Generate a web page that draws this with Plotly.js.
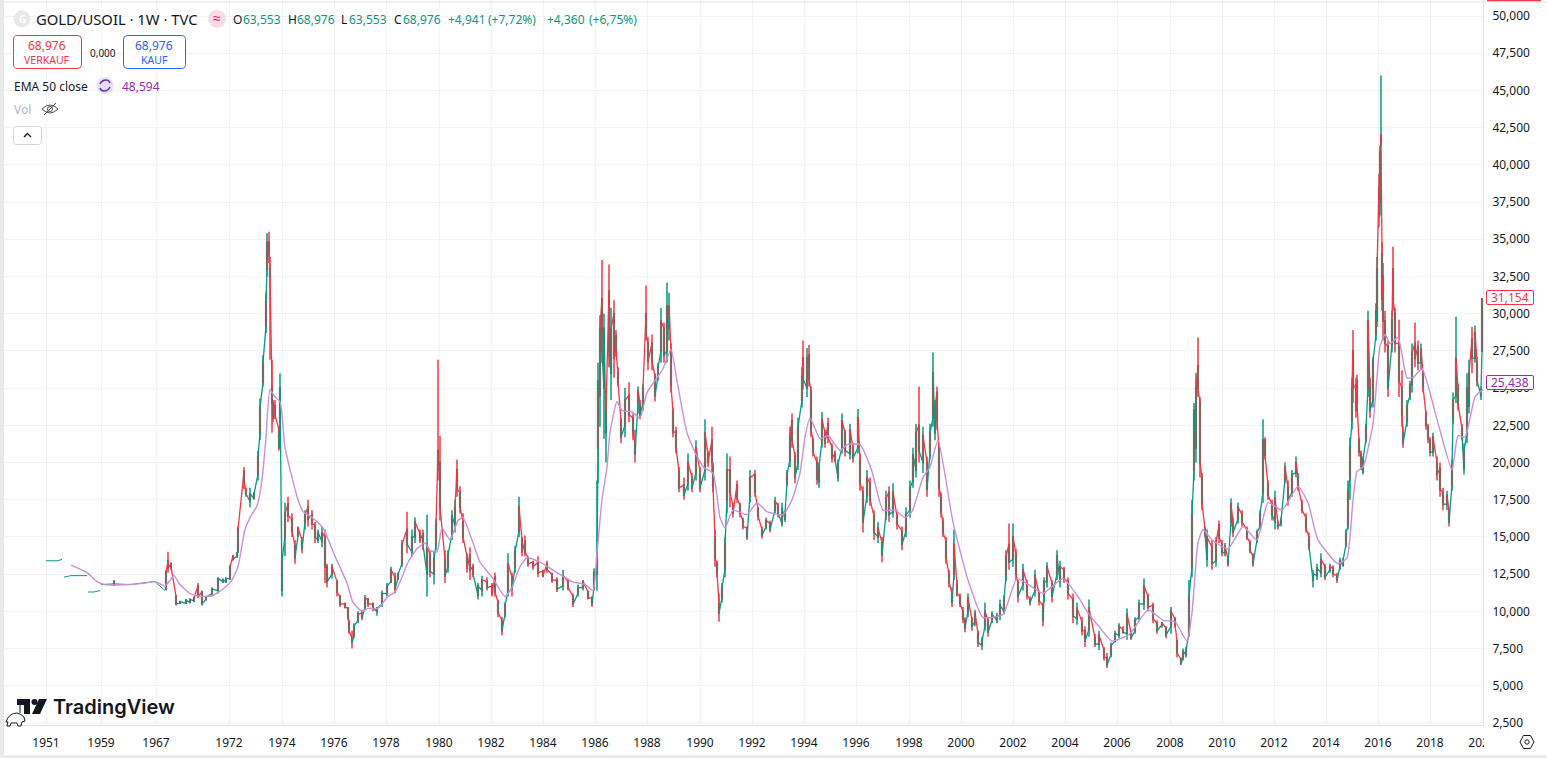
<!DOCTYPE html>
<html><head><meta charset="utf-8">
<script src="https://cdn.plot.ly/plotly-3.0.1.min.js"></script>
<style>html,body{margin:0;padding:0;background:#fff;overflow:hidden}#chart{width:1547px;height:758px}</style>
</head><body><div id="chart"></div>
<script>
// Weekly-bar index along the time axis (1951 = 0)
const tickBars=[0,110,220,366,472,576,680,786,890,994,1098,1202,1308,1412,1516,1620,1726,1830,1934,2038,2142,2248,2352,2456,2560,2664,2768,2872];
const tickYears=['1951','1959','1967','1972','1974','1976','1978','1980','1982','1984','1986','1988','1990','1992','1994','1996','1998','2000','2002','2004','2006','2008','2010','2012','2014','2016','2018','2020'];
const priceTicks=[50,47.5,45,42.5,40,37.5,35,32.5,30,27.5,25,22.5,20,17.5,15,12.5,10,7.5,5,2.5];

// Thin early history (1951-1967), shown as flat runs
const earlyBars=[0,12,24,32,33,36,50,64,82,83,84,96,108,109,110,136,168,198,218,228,238];
const earlyClose=[13.4,13.4,13.4,13.5,null,12.3,12.4,12.4,12.4,null,11.3,11.3,11.4,null,11.8,11.85,11.8,11.95,12.0,11.7,11.4];

const candleBars=[136,
240,244,250,260,268,280,288,296,304,312,
320,332,344,354,360,368,374,382,384,396,
400,408,416,424,428,434,440,442,446,448,
452,454,458,466,468,472,478,484,492,498,
504,512,518,524,532,538,544,552,558,562,
572,582,588,598,604,606,612,616,624,632,
638,644,654,662,672,682,690,698,704,712,
722,732,738,748,754,762,768,776,780,784,
788,798,804,812,818,822,828,834,842,848,
854,864,872,882,892,898,904,912,918,924,
932,938,946,952,958,964,974,984,994,1002,
1012,1022,1034,1044,1054,1064,1074,1084,1092,1096,
1102,1104,1108,1112,1116,1120,1126,1130,1136,1140,
1144,1150,1158,1166,1174,1178,1184,1188,1194,1200,
1204,1212,1218,1224,1230,1236,1242,1246,1250,1254,
1260,1266,1276,1284,1292,1300,1308,1318,1324,1332,
1334,1338,1342,1346,1352,1358,1362,1368,1374,1382,
1388,1394,1402,1408,1418,1424,1432,1440,1448,1458,
1464,1472,1478,1482,1488,1492,1498,1504,1512,1514,
1522,1526,1530,1534,1542,1546,1552,1558,1564,1572,
1578,1584,1592,1598,1608,1614,1624,1628,1634,1642,
1648,1656,1664,1672,1680,1686,1694,1702,1712,1720,
1728,1734,1740,1746,1754,1762,1768,1774,1778,1782,
1786,1790,1794,1800,1806,1812,1816,1822,1828,1834,
1838,1844,1852,1858,1864,1872,1878,1884,1892,1902,
1908,1916,1920,1926,1934,1940,1944,1954,1962,1968,
1978,1986,1994,1996,2002,2012,2022,2028,2036,2044,
2054,2062,2072,2078,2086,2098,2106,2116,2122,2130,
2138,2146,2154,2162,2170,2178,2186,2196,2204,2214,
2222,2232,2240,2250,2258,2262,2270,2274,2280,2286,
2292,2296,2300,2304,2308,2312,2318,2322,2332,2340,
2346,2352,2358,2364,2370,2374,2384,2392,2402,2408,
2414,2422,2428,2434,2438,2444,2452,2458,2464,2470,
2478,2484,2492,2500,2504,2512,2520,2526,2534,2542,
2550,2558,2568,2574,2582,2588,2594,2600,2604,2608,
2612,2614,2620,2622,2626,2630,2634,2640,2644,2648,
2654,2660,2662,2666,2668,2670,2672,2674,2678,2684,
2692,2694,2698,2706,2712,2714,2722,2728,2732,2738,
2744,2750,2754,2760,2764,2768,2774,2782,2788,2794,
2802,2806,2812,2814,2820,2824,2832,2836,2842,2846,
2852,2858,2862,2870,2872];

const opens=[12.0,
11.5,13.4,13.2,11.0,10.55,10.55,10.6,10.7,11.7,11.3,
10.8,11.2,11.4,12.0,12.0,12.2,13.7,13.7,14.1,19.4,
18.1,17.4,17.6,19.2,22.0,25.4,29.2,33.0,34.8,33.0,
25.0,24.0,23.8,22.2,23.0,11.4,15.0,17.2,16.2,14.4,
15.1,14.8,16.0,17.0,16.5,15.8,14.8,14.7,15.0,13.0,
12.5,12.0,11.0,10.5,10.2,9.3,8.2,8.4,9.4,9.9,
10.3,10.8,10.5,10.0,10.5,11.2,12.0,12.3,12.2,13.2,
15.5,14.0,15.0,15.2,15.2,12.5,13.8,12.5,14.5,20.8,
20.0,13.5,13.0,15.2,15.8,19.5,18.0,16.0,13.7,13.8,
13.0,11.1,11.4,12.0,11.7,12.3,10.6,9.4,9.8,11.4,
12.3,13.0,15.4,14.8,14.7,13.6,13.3,13.3,12.7,13.2,
12.5,12.1,11.7,12.0,11.0,11.2,11.6,11.3,10.9,11.6,
12.5,21.0,24.5,31.0,25.0,22.0,31.5,26.0,30.0,28.5,
26.0,22.8,22.5,24.5,23.0,21.5,24.0,24.0,24.0,30.0,
28.0,28.0,25.8,25.8,27.5,29.0,27.5,29.0,27.5,23.4,
22.1,19.4,18.5,18.6,19.0,19.3,19.4,19.5,20.5,21.5,
19.7,15.0,13.2,10.5,10.9,12.8,17.5,19.5,17.1,18.5,
17.1,16.1,15.6,17.8,19.2,16.9,15.5,15.7,15.9,16.8,
17.1,15.9,16.2,18.6,20.2,22.8,20.4,20.0,24.2,27.0,
25.0,27.2,24.8,21.5,20.0,18.7,21.5,22.0,22.6,21.0,
20.6,19.0,21.0,22.0,20.6,21.0,21.0,20.2,18.0,17.8,
18.6,16.4,15.0,14.6,16.6,18.0,16.7,16.4,15.4,15.4,
16.8,18.8,19.5,22.5,20.0,20.0,20.7,23.0,22.0,24.7,
21.0,17.7,16.0,14.7,12.5,11.2,12.5,11.8,11.0,10.0,
9.4,10.0,9.4,9.3,8.5,7.7,9.0,9.4,9.4,9.4,
9.7,10.0,12.4,14.5,13.5,13.8,11.9,11.8,11.9,10.8,
11.4,11.2,10.4,11.0,12.0,11.9,12.5,12.0,12.8,12.0,
10.8,9.5,9.3,8.7,8.8,8.2,7.8,7.4,6.9,7.1,
8.0,8.4,8.8,8.5,8.6,8.7,9.6,10.5,11.0,10.4,
9.2,9.1,8.9,9.0,9.5,8.0,6.8,6.9,7.1,8.5,
13.0,19.5,21.0,26.5,24.0,19.0,15.5,13.5,14.3,13.4,
15.8,14.5,13.9,13.5,16.0,16.0,16.2,16.5,15.5,14.6,
13.7,14.8,15.7,18.0,21.5,18.5,17.2,16.0,15.9,15.9,
18.9,18.3,18.0,19.3,19.0,17.2,16.3,15.0,12.1,12.4,
12.6,13.0,12.8,12.9,12.4,13.0,13.1,14.5,15.8,19.0,
22.8,27.5,25.2,25.5,21.5,20.6,19.4,21.6,25.0,25.0,
24.2,28.6,29.5,38.5,37.5,41.5,34.0,32.5,29.5,27.8,
28.0,33.0,30.0,28.0,25.0,22.0,22.8,24.5,25.2,28.0,
27.8,26.7,26.0,23.2,22.4,21.5,20.7,20.0,19.6,18.0,
17.2,16.8,18.5,23.0,24.5,25.0,22.3,19.6,22.0,23.8,
28.3,27.0,26.8,24.5,27.5];

const highs=[12.1,
12.8,14.0,13.3,11.1,10.7,10.8,10.85,11.0,11.9,11.4,
11.0,11.6,12.3,12.2,12.3,13.1,13.8,14.0,15.7,19.7,
18.3,18.3,18.0,20.8,24.3,27.2,31.4,35.4,35.5,33.8,
26.9,24.2,24.2,22.4,26.0,13.9,17.3,17.7,16.6,14.8,
15.7,15.0,16.8,17.5,16.8,16.0,15.5,15.7,15.5,13.2,
13.2,12.1,11.1,10.6,10.3,9.4,8.7,9.2,10.0,10.1,
11.1,10.9,10.6,10.3,11.4,11.9,13.0,12.6,12.6,14.8,
16.7,15.5,16.3,15.5,15.5,16.5,14.1,14.0,16.2,26.9,
21.8,14.1,14.1,16.8,17.5,20.2,18.4,16.6,13.9,14.3,
13.2,11.9,12.4,12.3,11.9,12.6,10.8,9.6,10.6,13.9,
12.6,14.4,17.7,15.0,15.1,13.7,13.4,13.7,12.8,13.4,
12.6,12.3,12.8,12.2,11.2,11.8,12.1,11.4,11.0,12.9,
18.8,26.7,29.9,33.6,30.0,24.9,33.3,30.4,30.9,28.9,
26.4,23.0,25.0,25.4,23.3,22.2,25.1,24.2,25.3,31.9,
28.4,28.6,26.0,26.7,30.4,29.4,32.1,31.4,28.0,23.7,
22.4,19.7,19.0,20.6,19.3,21.5,19.7,22.9,20.8,22.4,
20.0,15.5,13.4,11.2,11.9,15.0,20.6,20.4,17.3,18.8,
17.3,16.3,15.7,19.5,19.5,17.0,15.7,16.3,16.1,17.7,
17.3,17.3,16.8,19.5,22.4,23.3,20.7,23.0,26.4,28.2,
27.7,27.9,25.1,21.7,20.4,20.0,23.4,22.2,23.0,21.3,
20.8,20.2,23.3,22.2,22.6,21.3,23.6,20.6,18.4,19.5,
19.0,16.8,16.0,15.0,18.1,18.4,18.6,16.8,15.7,17.0,
18.8,21.0,22.6,25.1,22.4,20.4,22.6,27.4,24.2,25.1,
21.3,18.0,16.3,15.0,12.8,11.6,15.5,12.1,11.2,10.3,
9.6,11.2,9.6,10.1,8.7,8.3,10.6,9.6,10.0,9.9,
10.8,11.1,14.1,15.9,15.9,14.2,12.1,13.2,12.1,11.0,
12.8,11.4,10.6,12.3,13.3,12.1,14.1,13.4,13.0,12.3,
11.2,10.6,9.6,9.0,10.8,8.5,8.7,7.6,7.2,7.9,
8.7,9.2,9.0,10.2,8.7,9.6,10.8,12.2,11.2,10.6,
9.4,9.3,9.0,10.3,9.6,8.1,6.9,7.5,7.6,12.1,
17.5,24.0,26.0,28.4,24.4,19.3,15.7,15.5,14.8,15.0,
16.1,14.8,14.6,13.7,17.6,16.3,17.3,16.8,15.7,14.8,
13.9,15.5,16.8,22.9,21.7,18.8,17.5,18.1,16.1,16.3,
20.0,18.8,19.5,20.4,19.3,17.5,16.6,15.3,12.8,13.2,
13.9,13.2,13.2,13.1,12.6,13.6,13.6,15.5,18.8,21.7,
25.7,28.9,25.7,25.9,21.7,20.8,20.4,22.6,30.2,25.7,
27.1,30.7,33.8,39.4,41.3,46.0,34.8,33.4,30.2,28.2,
30.2,34.5,30.4,29.6,26.2,22.4,24.2,25.5,28.0,29.4,
28.2,28.0,26.2,23.5,22.6,21.7,22.0,20.4,20.0,18.3,
18.1,17.0,20.2,24.7,29.8,25.3,22.6,21.3,26.0,26.9,
29.1,29.2,27.1,25.1,31.0];

const lows=[11.7,
11.4,12.6,12.8,10.4,10.5,10.5,10.6,10.7,10.9,10.4,
10.8,11.1,11.2,11.9,11.9,12.1,13.4,13.6,13.9,18.2,
17.7,17.0,17.5,18.8,21.5,25.1,28.7,32.5,33.4,26.9,
22.0,22.7,22.9,20.8,22.4,11.0,13.7,16.0,15.0,13.2,
15.0,13.9,15.5,15.7,15.5,14.6,14.6,14.3,11.9,11.6,
12.2,11.0,10.3,10.2,9.4,8.5,7.5,8.2,9.2,9.4,
10.1,10.3,10.0,9.7,10.3,11.0,11.9,11.2,12.1,13.0,
13.9,13.7,14.6,14.6,14.1,11.0,12.3,11.8,14.1,18.8,
16.1,11.9,12.6,14.8,15.3,17.7,16.6,14.6,12.6,12.1,
12.3,10.8,11.0,11.4,11.0,11.0,9.6,8.4,9.6,11.0,
11.0,12.6,15.0,13.7,13.7,13.0,12.8,12.3,12.3,12.6,
11.9,11.3,11.4,11.4,10.3,11.0,11.4,10.8,10.3,11.4,
11.4,18.6,22.4,26.7,21.6,20.0,26.4,24.2,25.7,27.1,
25.1,21.3,21.7,22.7,21.5,20.0,23.3,22.9,23.5,28.2,
26.2,26.2,24.1,25.5,26.7,26.7,26.7,28.2,24.7,21.7,
20.6,18.0,17.5,18.1,18.0,18.8,18.0,18.8,19.7,19.3,
18.0,13.0,12.3,9.3,10.6,12.3,16.6,17.0,16.3,17.3,
16.3,15.5,14.8,17.3,17.7,16.1,14.9,15.5,15.3,16.6,
16.3,15.7,16.0,18.4,19.7,21.0,18.6,19.5,23.7,24.9,
24.4,25.1,21.7,20.4,18.5,18.3,21.0,21.0,21.3,20.0,
20.0,18.7,20.6,20.4,20.2,20.0,20.6,18.1,15.3,17.3,
17.1,14.8,14.6,13.3,16.1,16.0,16.3,15.5,14.1,15.0,
16.3,18.3,19.0,20.0,19.3,17.7,20.2,22.4,21.5,22.2,
17.7,16.3,15.0,13.2,11.6,10.3,12.1,11.0,10.3,9.2,
8.6,9.6,8.7,9.0,7.6,7.4,8.7,8.3,9.2,9.2,
9.4,9.8,12.0,12.8,13.0,12.1,10.6,11.4,10.8,10.4,
11.0,10.4,9.0,10.6,11.6,10.6,12.1,11.6,11.9,10.8,
9.2,9.1,8.4,7.6,8.3,7.6,7.4,6.7,6.2,6.9,
7.9,8.2,8.5,8.1,8.1,8.5,9.4,10.1,10.0,9.2,
8.5,8.9,8.2,8.5,8.9,6.9,6.4,6.7,6.9,8.3,
12.3,18.8,20.0,24.4,19.0,16.8,15.0,13.0,12.8,13.0,
14.6,13.7,13.7,13.0,15.7,15.0,15.9,15.7,14.8,13.9,
13.0,14.6,15.5,17.3,20.2,17.5,16.1,15.5,15.5,15.7,
18.6,17.1,17.7,19.0,18.1,16.6,15.3,14.1,11.6,12.1,
12.3,12.1,12.6,12.3,11.9,12.8,13.0,14.3,15.5,17.5,
22.2,24.0,23.0,23.5,20.4,19.5,19.2,21.3,24.4,23.0,
23.7,28.2,29.1,35.8,36.6,41.3,30.2,28.2,27.4,24.4,
27.4,30.2,27.4,24.4,22.4,21.0,22.4,24.2,24.7,26.4,
26.2,26.2,24.7,22.2,21.3,20.4,20.4,18.8,17.7,16.8,
16.8,15.7,18.1,22.6,24.0,23.5,21.5,19.2,21.3,23.3,
26.0,26.7,25.1,24.2,27.5];

const closes=[11.8,
12.6,12.9,13.0,10.5,10.65,10.75,10.8,10.9,11.0,10.5,
10.95,11.5,12.2,12.1,12.2,13.0,13.5,13.9,15.5,18.7,
17.9,17.9,17.9,20.4,23.7,26.7,30.8,34.8,34.0,32.5,
24.0,23.0,23.2,21.0,25.0,13.4,16.6,16.4,15.4,13.6,
15.6,14.2,16.5,16.2,15.9,15.0,15.3,15.3,13.0,12.0,
13.0,11.3,10.5,10.3,9.6,8.7,7.9,9.0,9.8,9.6,
10.9,10.5,10.2,10.2,11.2,11.7,12.8,11.5,12.5,14.5,
14.5,15.0,16.0,14.8,14.5,14.5,12.7,13.5,15.8,19.5,
17.0,12.4,13.8,16.4,17.0,18.2,17.0,15.0,12.9,12.8,
12.5,11.7,12.1,11.6,11.2,11.3,9.9,8.7,10.4,13.2,
11.5,14.0,17.0,14.0,14.0,13.2,13.0,12.6,12.4,12.8,
12.1,11.5,12.4,11.6,10.5,11.6,12.0,10.9,10.5,12.6,
13.5,25.5,29.0,27.5,29.0,23.5,27.5,29.0,27.0,27.5,
25.4,21.7,24.2,23.2,21.9,20.6,24.8,23.2,25.0,28.6,
26.8,26.8,24.5,26.4,29.5,27.2,30.5,30.5,25.2,22.0,
21.0,18.3,17.8,20.0,18.3,21.0,18.3,22.0,20.0,20.0,
18.4,13.6,12.6,9.9,11.6,14.5,19.5,18.0,16.6,17.6,
16.6,15.7,15.0,19.0,18.0,16.4,15.1,16.1,15.5,17.4,
16.6,16.9,16.6,19.2,21.8,21.5,19.0,22.4,25.8,25.6,
27.0,25.6,22.2,20.7,18.9,19.7,22.9,21.3,21.7,20.3,
20.2,19.9,22.8,20.8,22.2,20.3,23.0,18.6,16.0,19.0,
17.5,15.3,15.6,13.8,17.6,16.5,18.0,15.9,14.5,16.5,
18.3,20.5,22.0,20.8,21.8,18.2,22.0,26.0,23.7,22.8,
18.3,16.7,15.3,13.6,12.0,10.6,14.5,11.2,10.5,9.5,
8.9,10.9,9.0,9.9,7.9,8.0,10.0,8.6,9.8,9.7,
10.4,10.8,13.7,13.3,15.0,12.5,11.0,12.8,11.1,10.6,
12.4,10.7,9.4,12.0,13.0,11.0,13.7,13.0,12.2,11.2,
9.7,10.2,8.7,8.0,10.2,7.8,8.4,6.9,6.4,7.7,
8.5,9.0,8.6,9.8,8.2,9.4,10.5,11.7,10.3,9.5,
8.7,9.2,8.4,10.0,9.1,7.2,6.5,7.3,7.4,11.0,
16.5,23.5,25.0,25.0,20.0,17.3,15.2,15.0,13.2,14.6,
15.0,14.0,14.4,13.2,17.2,15.3,17.0,16.0,15.0,14.1,
13.2,15.3,16.5,21.5,20.5,17.8,16.5,17.6,15.7,16.1,
19.7,17.5,19.2,20.0,18.4,16.8,15.6,14.4,12.5,12.9,
13.5,12.3,13.0,12.5,12.1,13.4,13.4,15.2,18.0,21.0,
25.0,25.0,23.5,24.0,20.7,19.8,20.2,22.4,29.5,23.5,
26.8,30.2,33.0,36.5,40.8,42.0,31.0,29.5,28.0,25.0,
29.6,31.0,28.0,25.5,23.2,21.3,23.8,25.2,27.4,27.0,
26.7,27.6,25.1,22.5,21.6,20.7,21.7,19.2,18.2,17.2,
17.8,16.0,19.8,24.2,27.0,23.9,21.8,20.8,25.0,26.0,
27.0,28.7,25.5,24.9,31.0];

const emaBars=[50,82,102,118,168,198,218,238,248,256,268,288,308,332,358,372,384,398,408,422,432,440,448,458,468,478,492,504,514,532,554,578,602,614,632,644,664,684,698,712,724,742,758,768,782,792,808,824,834,852,868,892,918,932,948,962,988,1022,1052,1078,1094,1102,1112,1122,1128,1142,1152,1172,1188,1202,1218,1234,1250,1262,1282,1302,1318,1334,1348,1358,1374,1402,1422,1442,1474,1492,1508,1518,1528,1548,1564,1588,1602,1628,1652,1674,1698,1718,1732,1754,1768,1784,1814,1844,1874,1914,1942,1974,1994,2034,2064,2084,2108,2132,2168,2204,2234,2258,2282,2292,2304,2314,2332,2364,2394,2422,2444,2472,2504,2524,2544,2584,2602,2614,2622,2634,2654,2668,2678,2688,2704,2722,2734,2752,2782,2812,2824,2838,2858,2874];
const emaValues=[13.1,12.6,12.0,11.8,11.8,11.9,12.0,11.7,12.1,12.4,11.8,11.2,11.0,11.05,11.6,12.1,13.0,15.5,16.3,17.1,18.8,21.7,24.9,24.4,24.1,21.0,19.0,17.5,16.7,16.3,15.6,13.7,11.9,10.6,10.0,10.2,10.2,11.0,11.3,12.3,13.3,14.2,14.6,14.1,14.0,15.6,14.8,16.1,16.3,14.8,13.3,12.3,11.0,11.6,13.0,13.6,13.3,12.6,12.0,11.8,11.4,13.9,17.5,19.7,22.0,24.1,23.5,23.4,23.0,24.7,25.5,26.3,27.6,25.5,22.0,20.4,19.6,19.3,16.3,15.6,16.8,16.5,17.3,16.7,16.5,17.5,19.3,21.7,23.0,21.6,21.8,20.8,21.2,21.2,19.4,16.8,16.8,16.3,16.7,19.0,19.7,21.5,16.0,12.1,9.6,9.8,12.2,11.6,11.2,12.2,11.0,9.9,8.9,8.0,8.5,10.1,9.4,9.3,8.0,9.9,14.6,15.5,14.8,14.2,15.7,14.8,17.3,16.8,18.4,17.3,14.8,13.2,13.6,17.5,19.4,19.7,22.6,27.8,28.6,28.0,28.4,25.7,25.7,26.3,22.9,19.5,21.8,21.7,24.4,24.9];

const ohlcLegend=[['O',233],['63,553',243],['H',288],['68,976',297],['L',341],['63,553',349],['C',394],['68,976',403],['+4,941',448],['(+7,72%)',488],['+4,360',547],['(+6,75%)',589]];

const GREEN='#089981',RED='#f23645',BROWN='rgba(122,104,96,0.9)',EMA='#c98fd8',PURPLE='#9c27b0',BLUE='#2962ff',INK='#131722',GRID='#f2f3f5';
const FONT='"Noto Sans",sans-serif';

// Overlay helpers: page pixels to paper fractions for the surrounding chart furniture
const PW=1479,PH=725,ML=4;
const fx=x=>(x-ML)/PW, fy=y=>1-y/PH;
const shapes=[],annotations=[];
function mapPath(d){let i=0;return d.replace(/-?\d+(\.\d+)?/g,n=>{const v=(i++%2===0)?fx(+n):fy(+n);return v.toFixed(5)});}
function path(d,line,fill,w){shapes.push({type:'path',xref:'paper',yref:'paper',layer:'above',path:mapPath(d),line:{color:line||'rgba(0,0,0,0)',width:w===undefined?1:w},fillcolor:fill||'rgba(0,0,0,0)'});}
function rect(x0,y0,x1,y1,fill){shapes.push({type:'rect',xref:'paper',yref:'paper',layer:'above',x0:fx(x0),x1:fx(x1),y0:fy(y0),y1:fy(y1),line:{width:0},fillcolor:fill});}
function circle(cx,cy,r,fill,line,w){shapes.push({type:'circle',xref:'paper',yref:'paper',layer:'above',x0:fx(cx-r),x1:fx(cx+r),y0:fy(cy+r),y1:fy(cy-r),line:{color:line||'rgba(0,0,0,0)',width:w===undefined?1:w},fillcolor:fill||'rgba(0,0,0,0)'});}
function rbox(x0,y0,x1,y1,r,line,fill){path(`M ${x0+r} ${y0} L ${x1-r} ${y0} Q ${x1} ${y0} ${x1} ${y0+r} L ${x1} ${y1-r} Q ${x1} ${y1} ${x1-r} ${y1} L ${x0+r} ${y1} Q ${x0} ${y1} ${x0} ${y1-r} L ${x0} ${y0+r} Q ${x0} ${y0} ${x0+r} ${y0} Z`,line,fill);}
function txt(x,y,text,color,size,anchor,extra){annotations.push(Object.assign({xref:'paper',yref:'paper',x:fx(x),y:fy(y),text:text,showarrow:false,xanchor:anchor||'left',yanchor:'middle',borderpad:0,borderwidth:0,font:{family:FONT,size:size||12,color:color||INK}},extra||{}));}

// window edges and axis separators
rect(0,0,4,758,'#e9e9ea');
rect(0,1.5,1547,2.5,'#e6e6e8');
rect(0,755,1547,758,'#ececed');
rect(4,725,1483,726,'#e0e3eb');
rect(1483,0,1484,726,'#e0e3eb');
rect(1484,729,1547,755,'#ffffff');
rect(1487,0,1541,1.2,RED);

// header
circle(22,19,8.5,'#e8e8ea');
txt(22,19,'G','#ffffff',10,'center',{font:{family:FONT,size:10,color:'#ffffff',weight:700}});
txt(36,19,'GOLD/USOIL · 1W · TVC',INK,14.8);
circle(217,19,9,'#fadce4');
txt(217,18,'≈','#d81b60',14,'center');
ohlcLegend.forEach(([s,x])=>txt(x,19,s,/^[OHLC]$/.test(s)?INK:GREEN,12));

// sell/buy boxes
rbox(13.5,35.5,81.5,68.5,4,RED,'#ffffff');
rbox(123.5,35.5,185.5,68.5,4,BLUE,'#ffffff');
txt(47,45,'68,976',RED,12,'center');
txt(47,60,'VERKAUF',RED,10.5,'center');
txt(103,53,'0,000',INK,10,'center');
txt(154,45,'68,976',BLUE,12,'center');
txt(154,60,'KAUF',BLUE,10.5,'center');

// indicator rows
txt(14,86,'EMA 50 close',INK,12);
circle(105,85.5,8.5,'#e9dff9');
path('M 100 84 Q 102 80 106 80 Q 109 80 110 83 M 110 87 Q 108 91 104 91 Q 101 91 100 88','#5e35b1',null,1.5);
txt(122,86,'48,594',PURPLE,12);
txt(14,109,'Vol','#b2b5be',12);
path('M 42 109 Q 50 101 58 109 Q 50 117 42 109 Z','#4a4d57');
circle(50,109,2.5,null,'#4a4d57');
path('M 44 115 L 56 103','#4a4d57');
rbox(13.5,126.5,41.5,144.5,3,'#d1d4dc','#ffffff');
path('M 24 137 L 27.5 133.5 L 31 137',INK,null,1.3);

// logo
path('M 17 699 L 30 699 L 30 714 L 24 714 L 24 705 L 17 705 Z',null,'#131722',0);
circle(34.5,702,3,'#131722');
path('M 39 699 L 47 699 L 40 714 L 32 714 Z',null,'#131722',0);
txt(53,707,'TradingView','#131722',20,'left',{font:{family:'Inter,"Noto Sans",sans-serif',size:20,color:'#131722',weight:600}});
path('M 6 722 Q 9 713 17 713 Q 21 714 24 717 L 25 721 L 22 722 L 21 726 L 18 726 L 17 723 L 11 723 L 10 726 L 7 726 L 8 722 Z M 20 713 L 20 705',INK,'#ffffff',1);

// right-side price tags
rbox(1486.5,290.5,1533.5,304.5,1.5,RED,'#ffffff');
txt(1510,297.5,'31,154',RED,12,'center');
rbox(1486.5,375.5,1533.5,389.5,1.5,PURPLE,'#ffffff');
txt(1510,382.5,'25,438',PURPLE,12,'center');

// settings icon
path('M 1520 742 L 1523.5 735.5 L 1530.5 735.5 L 1534 742 L 1530.5 748.5 L 1523.5 748.5 Z',INK);
circle(1527,742,2.2,null,INK);

// Derived from the candle arrays: bodies in the blended tone, and the
// gaps between neighbouring candles joined close-to-open in the next candle's colour.
const bodyHigh=opens.map((o,i)=>Math.max(o,closes[i]));
const bodyLow=opens.map((o,i)=>Math.min(o,closes[i]));
const joinUp={x:[],y:[]},joinDown={x:[],y:[]};
for(let i=1;i<candleBars.length-1;i++){
  const t=closes[i+1]>=opens[i+1]?joinUp:joinDown;
  t.x.push(candleBars[i],candleBars[i+1],null);
  t.y.push(closes[i],opens[i+1],null);
}

const data=[
 {type:'scatter',mode:'lines',x:earlyBars,y:earlyClose,line:{color:GREEN,width:1},connectgaps:false,hoverinfo:'skip',showlegend:false},
 {type:'scatter',mode:'lines',x:joinUp.x,y:joinUp.y,line:{color:GREEN,width:1.3},hoverinfo:'skip',showlegend:false},
 {type:'scatter',mode:'lines',x:joinDown.x,y:joinDown.y,line:{color:RED,width:1.3},hoverinfo:'skip',showlegend:false},
 {type:'candlestick',x:candleBars,open:opens,high:highs,low:lows,close:closes,
  increasing:{line:{color:GREEN,width:1.5},fillcolor:GREEN},decreasing:{line:{color:RED,width:1.5},fillcolor:RED},hoverinfo:'skip',showlegend:false},
 {type:'candlestick',x:candleBars,open:bodyLow,high:bodyHigh,low:bodyLow,close:bodyHigh,
  increasing:{line:{color:BROWN,width:1.7},fillcolor:BROWN},decreasing:{line:{color:BROWN,width:1.7},fillcolor:BROWN},hoverinfo:'skip',showlegend:false},
 {type:'scatter',mode:'lines',x:emaBars,y:emaValues,line:{color:EMA,width:1.4,shape:'spline',smoothing:0.5},hoverinfo:'skip',showlegend:false}
];
const layout={
 width:1547,height:758,margin:{l:ML,r:64,t:0,b:33,pad:0},paper_bgcolor:'#ffffff',plot_bgcolor:'#ffffff',
 separators:',.',showlegend:false,hovermode:false,font:{family:FONT,size:12,color:INK},
 xaxis:{type:'linear',range:[-84,2874],tickmode:'array',tickvals:tickBars,ticktext:tickYears,showgrid:true,gridcolor:GRID,gridwidth:1,zeroline:false,showline:false,
  ticks:'outside',ticklen:7,tickcolor:'rgba(0,0,0,0)',tickfont:{family:FONT,size:12,color:INK},tickangle:0,rangeslider:{visible:false},fixedrange:true},
 yaxis:{type:'linear',side:'right',range:[2.365,51.075],tickmode:'array',tickvals:priceTicks,tickformat:'.3f',showgrid:true,gridcolor:GRID,gridwidth:1,zeroline:false,showline:false,
  ticks:'outside',ticklen:6,tickcolor:'rgba(0,0,0,0)',tickfont:{family:FONT,size:12,color:INK},fixedrange:true},
 shapes:shapes,annotations:annotations
};
Plotly.newPlot('chart',data,layout,{displayModeBar:false,staticPlot:true});
</script></body></html>
